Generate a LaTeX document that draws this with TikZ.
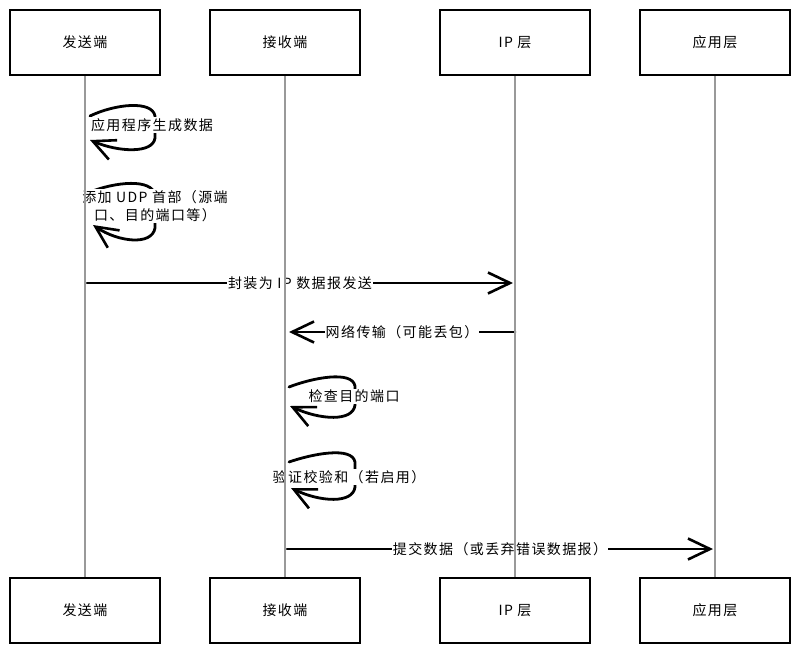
\documentclass[tikz,border=0pt]{standalone}
\usepackage{fontspec}
\setmainfont{Noto Sans CJK SC}[LetterSpace=10]
\usetikzlibrary{arrows.meta}
\tikzset{
	actor/.style={draw, line width=2pt, minimum width=150pt, minimum height=65pt, inner sep=0pt},
	life/.style={draw=black!40, line width=1.1pt},
	msg/.style={line width=2.8pt, line cap=round, -{Straight Barb[length=22pt, width=21pt, line width=2.6pt]}},
	lbl/.style={fill=white, inner sep=1pt, align=center},
	every node/.style={font=\fontsize{14}{18}\selectfont}
}

\begin{document}
\begin{tikzpicture}[x=1pt, y=-1pt]
			%%%%% START %%%%%
			
			\useasboundingbox (0, 0) rectangle (800, 654);
			
			\node[actor] (snd) at (85, 42.5) {发送端};
			\node[actor] (rcv) at (285, 42.5) {接收端};
			\node[actor] (ip) at (515, 42.5) {IP 层};
			\node[actor] (app) at (715, 42.5) {应用层};
			
			\node[actor] (snd2) at (85, 610.5) {发送端};
			\node[actor] (rcv2) at (285, 610.5) {接收端};
			\node[actor] (ip2) at (515, 610.5) {IP 层};
			\node[actor] (app2) at (715, 610.5) {应用层};
			
			\coordinate (l1a) at (90, 116);
			\coordinate (l1b) at (90, 140);
			\coordinate (l2a) at (90, 192);
			\coordinate (l2b) at (93, 225);
			\coordinate (s3) at (87, 283);
			\coordinate (t3) at (513, 283);
			\coordinate (s4) at (515, 332);
			\coordinate (t4) at (289, 332);
			\coordinate (l5a) at (289, 387);
			\coordinate (l5b) at (290, 406);
			\coordinate (l6a) at (289, 462);
			\coordinate (l6b) at (291, 488);
			\coordinate (s7) at (287, 549);
			\coordinate (t7) at (713, 549);
			
			\draw[msg] (l1a) .. controls (115, 104) and (152, 100) .. (155, 116) -- (155, 138) .. controls (153, 154) and (118, 152) .. (l1b);
			\node[lbl] (m1) at (152, 125) {应用程序生成数据};
			
			\draw[msg] (l2a) .. controls (115, 182) and (152, 178) .. (155, 195) -- (155, 228) .. controls (152, 246) and (118, 242) .. (l2b);
			\node[lbl] (m2) at (155, 206) {添加 UDP 首部（源端\\口、目的端口等）};
			
			\draw[msg] (s3) -- node[lbl] (m3) {封装为 IP 数据报发送} (t3);
			\draw[msg] (s4) -- node[lbl] (m4) {网络传输（可能丢包）} (t4);
			
			\draw[msg] (l5a) .. controls (312, 378) and (352, 370) .. (355, 386) -- (355, 405) .. controls (353, 422) and (320, 420) .. (l5b);
			\node[lbl] (m5) at (354, 396) {检查目的端口};
			
			\draw[msg] (l6a) .. controls (312, 454) and (352, 446) .. (355, 462) -- (355, 487) .. controls (353, 504) and (320, 502) .. (l6b);
			\node[lbl] (m6) at (349, 477) {验证校验和（若启用）};
			
			\draw[msg] (s7) -- node[lbl] (m7) {提交数据（或丢弃错误数据报）} (t7);
			
			% lifelines
			\draw[life] (snd.south) -- (snd2.north);
			\draw[life] (rcv.south) -- (rcv2.north);
			\draw[life] (ip.south) -- (ip2.north);
			\draw[life] (app.south) -- (app2.north);
			
			%%%%% END %%%%%
\end{tikzpicture}
\end{document}
